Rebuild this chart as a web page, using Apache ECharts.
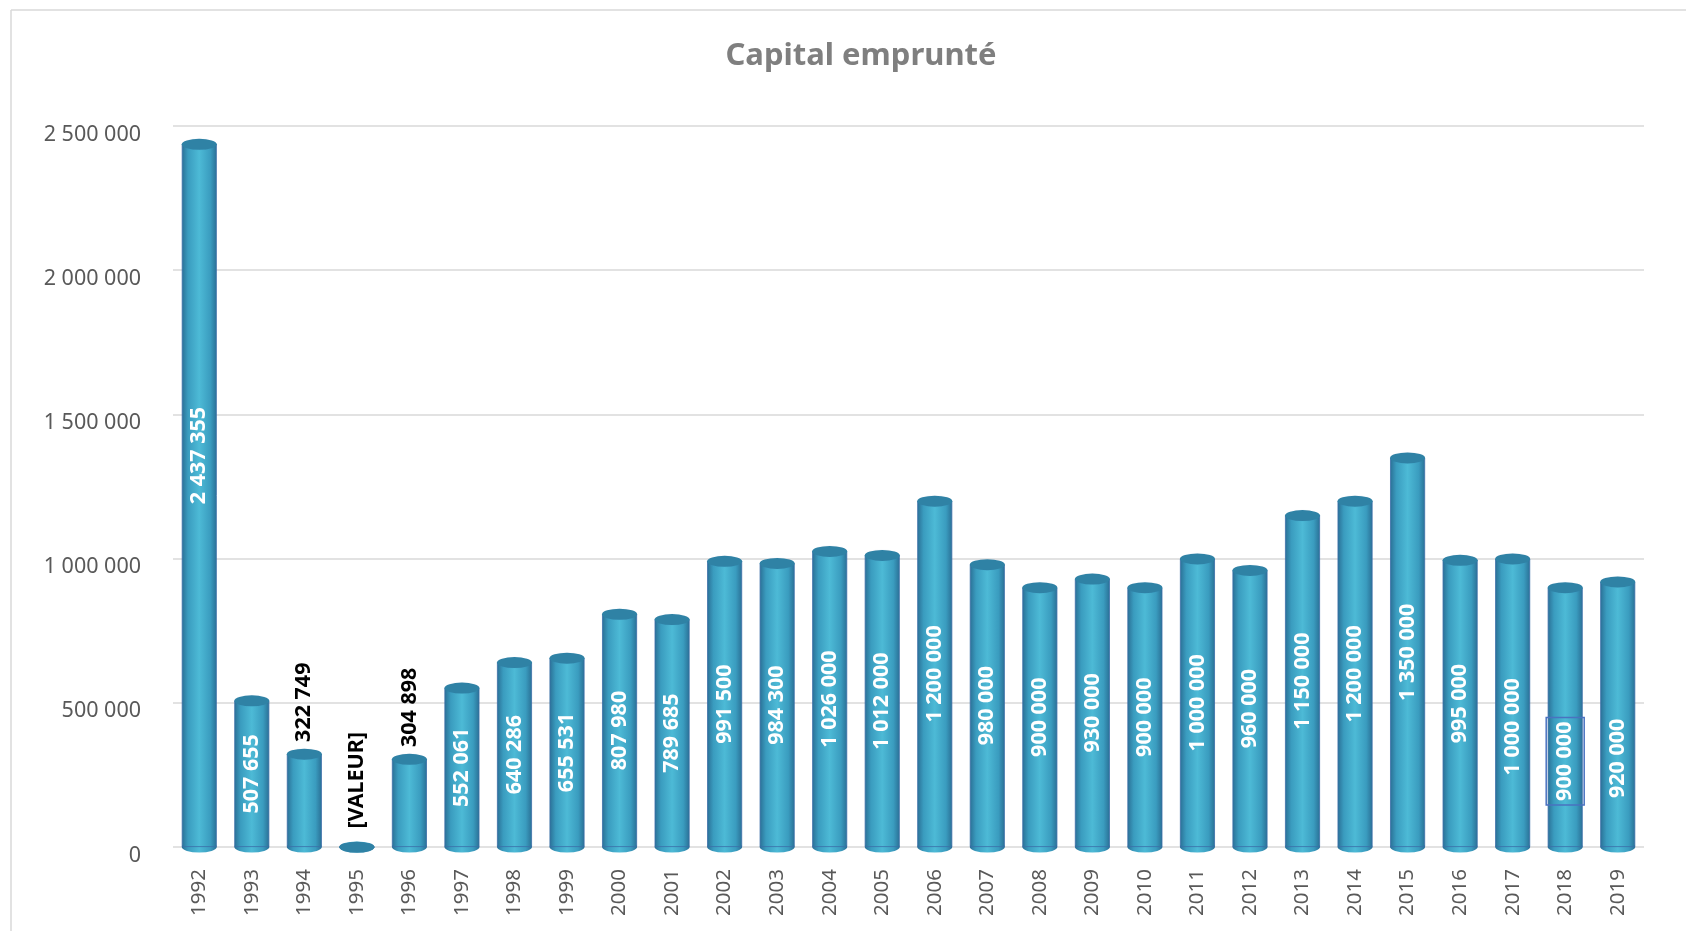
<!DOCTYPE html>
<html>
<head>
<meta charset="utf-8">
<script src="https://cdn.jsdelivr.net/npm/echarts@6/dist/echarts.min.js"></script>
<style>
html, body { margin: 0; padding: 0; background: #fff; }
#chart { width: 1686px; height: 931px; }
</style>
</head>
<body>
<div id="chart"></div>
<script>
// Capital emprunté par année
const years = ['1992', '1993', '1994', '1995', '1996', '1997', '1998', '1999', '2000', '2001',
    '2002', '2003', '2004', '2005', '2006', '2007', '2008', '2009', '2010', '2011',
    '2012', '2013', '2014', '2015', '2016', '2017', '2018', '2019']
const capital = [2437355, 507655, 322749, 0, 304898, 552061, 640286, 655531, 807980, 789685,
    991500, 984300, 1026000, 1012000, 1200000, 980000, 900000, 930000, 900000, 1000000,
    960000, 1150000, 1200000, 1350000, 995000, 1000000, 900000, 920000]
const yTicks = [0, 500000, 1000000, 1500000, 2000000, 2500000]

const fmt = v => String(v).replace(/\B(?=(\d{3})+(?!\d))/g, ' ')

// étiquettes déplacées à la main dans le classeur d'origine (px vers le bas)
const labelNudge = { '1992': -40, '2017': 24, '2018': 44, '2019': 44 }

const bodyColor = new echarts.graphic.LinearGradient(0, 0, 1, 0, [
    { offset: 0, color: '#2a6f95' },
    { offset: 0.18, color: '#3a9cbf' },
    { offset: 0.5, color: '#4dbad6' },
    { offset: 0.82, color: '#3a9cbf' },
    { offset: 1, color: '#2a6f95' }
])
const barW = 35

const chart = echarts.init(document.getElementById('chart'))

const barData = capital.map((v, i) => {
    const item = { value: v }
    if (v < 400000) {
        // petites valeurs : étiquette au-dessus, en noir
        item.label = {
            position: 'top', rotate: 90, align: 'left', verticalAlign: 'middle',
            distance: v === 0 ? 18 : 12, color: '#000',
            formatter: v === 0 ? '[VALEUR]' : fmt(v)
        }
    }
    const nudge = labelNudge[years[i]]
    if (nudge) {
        // le texte est tourné de 90° : l'axe x local pointe vers le haut
        item.label = { offset: [-nudge, 0] }
    }
    if (years[i] === '2018') {
        item.label.borderColor = '#4a72c0'
        item.label.borderWidth = 1.5
        item.label.padding = [8, 4, 8, 4]
    }
    return item
})

const option = {
    animation: false,
    title: {
        text: 'Capital emprunté',
        left: 856, top: 36, textAlign: 'center',
        textStyle: { color: '#7f7f7f', fontSize: 31, fontWeight: 'bold', fontFamily: 'Noto Sans' }
    },
    graphic: [
        { type: 'line', shape: { x1: 11, y1: 10, x2: 11, y2: 931 }, style: { stroke: '#d9d9d9', lineWidth: 1.5 } },
        { type: 'line', shape: { x1: 11, y1: 10, x2: 1686, y2: 10 }, style: { stroke: '#d9d9d9', lineWidth: 1.5 } }
    ],
    grid: { top: 126, bottom: 84, left: 173, right: 42 },
    xAxis: {
        type: 'category',
        data: years,
        axisLine: { show: false },
        axisTick: { show: false },
        axisLabel: { rotate: 90, margin: 22, color: '#595959', fontSize: 20.5, fontFamily: 'Noto Sans' }
    },
    yAxis: {
        type: 'value',
        min: yTicks[0], max: yTicks[yTicks.length - 1], interval: 500000,
        axisLine: { show: false },
        axisTick: { show: false },
        splitLine: { lineStyle: { color: '#d9d9d9', width: 1.5 } },
        axisLabel: {
            margin: 32, color: '#595959', fontSize: 21.5, fontFamily: 'Noto Sans',
            formatter: v => '{v|' + fmt(v) + '}',
            rich: { v: { color: '#595959', fontSize: 21.5, fontFamily: 'Noto Sans', padding: [17, 0, 0, 0] } }
        }
    },
    series: [
        { // fond du cylindre
            type: 'pictorialBar',
            data: capital,
            symbol: 'circle',
            symbolSize: [barW, 11],
            symbolPosition: 'start',
            symbolOffset: [0, '50%'],
            itemStyle: { color: bodyColor },
            z: 1
        },
        {
            type: 'bar',
            data: barData,
            barWidth: barW,
            itemStyle: { color: bodyColor, borderColor: '#3b6fa8', borderWidth: 0.8 },
            label: {
                show: true, position: 'inside', rotate: 90,
                color: '#fff', fontSize: 21.5, fontWeight: 'bold', fontFamily: 'Noto Sans',
                formatter: p => fmt(p.value)
            },
            z: 2
        },
        { // dessus du cylindre
            type: 'pictorialBar',
            data: capital,
            symbol: 'circle',
            symbolSize: [barW, 11],
            symbolPosition: 'end',
            symbolOffset: [0, '-50%'],
            itemStyle: { color: '#2f82a5', borderColor: '#3b6fb0', borderWidth: 1 },
            z: 3
        }
    ]
}
chart.setOption(option)
</script>
</body>
</html>
